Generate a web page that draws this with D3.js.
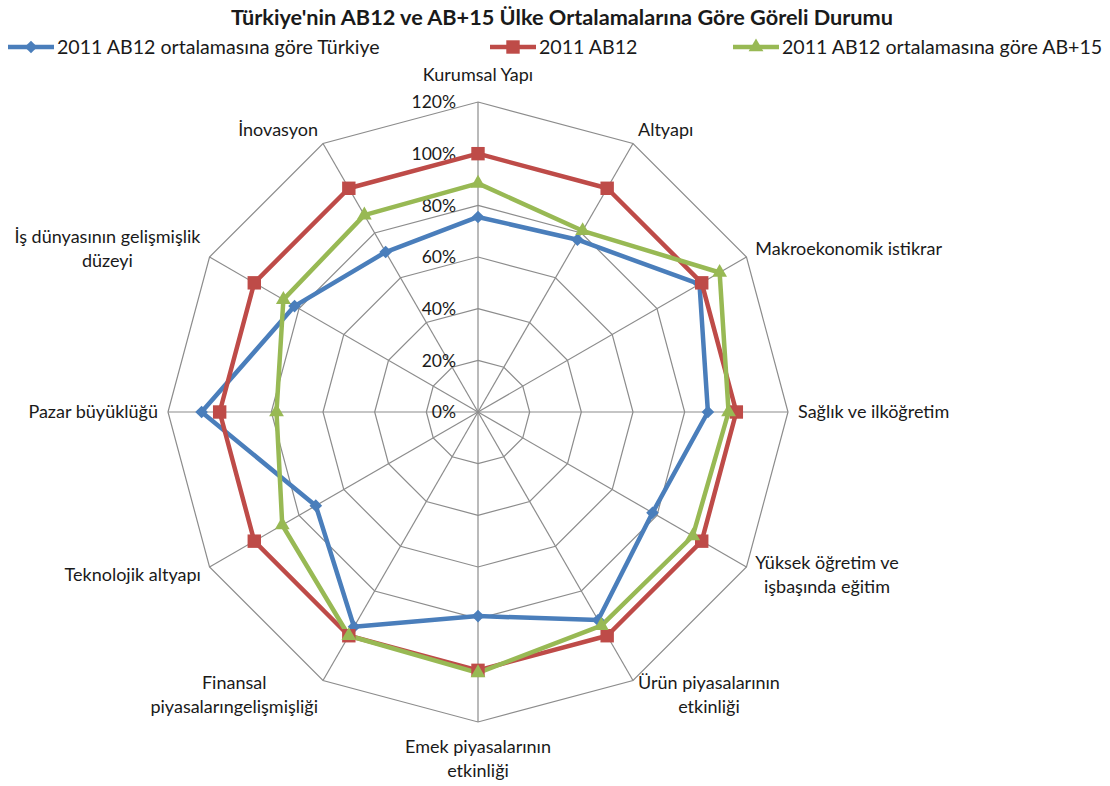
<!DOCTYPE html>
<html>
<head>
<meta charset="utf-8">
<script src="https://cdn.jsdelivr.net/npm/d3@7"></script>
<style>
  body { margin: 0; background: #fff; }
  svg { font-family: Lato, "Open Sans", sans-serif; }
</style>
</head>
<body>
<svg id="chart" width="1110" height="786"></svg>
<script>
// categories, clockwise from the top
var categories = [
  ["Kurumsal Yapı"],
  ["Altyapı"],
  ["Makroekonomik istikrar"],
  ["Sağlık ve ilköğretim"],
  ["Yüksek öğretim ve", "işbaşında eğitim"],
  ["Ürün piyasalarının", "etkinliği"],
  ["Emek piyasalarının", "etkinliği"],
  ["Finansal", "piyasalarıngelişmişliği"],
  ["Teknolojik altyapı"],
  ["Pazar büyüklüğü"],
  ["İş dünyasının gelişmişlik", "düzeyi"],
  ["İnovasyon"]
];

var seriesNames = [
  "2011 AB12 ortalamasına göre Türkiye",
  "2011 AB12",
  "2011 AB12 ortalamasına göre AB+15"
];

// values in %
var turkiye = [75.5, 77, 99, 89, 78, 93, 79, 96, 72.5, 107, 82, 71.5];
var ab12    = [100, 100, 100, 100, 100, 100, 100, 100, 100, 100, 100, 100];
var ab15    = [88.5, 81, 108, 97, 96, 95.5, 101, 100, 87.5, 78, 87, 88];

var tickValues = [0, 20, 40, 60, 80, 100, 120];

var colors = ["#4a7ebb", "#be4b48", "#98b954"];

var svg = d3.select("#chart");
var cx = 478, cy = 412, R = 310;

var r = d3.scaleLinear().domain([0, 120]).range([0, R]);
var angle = d3.scaleLinear().domain([0, categories.length]).range([0, 2 * Math.PI]);

function pt(i, v) {
  var a = angle(i);
  return [cx + r(v) * Math.sin(a), cy - r(v) * Math.cos(a)];
}

// title
svg.append("text")
  .attr("x", 562).attr("y", 25)
  .attr("text-anchor", "middle")
  .attr("font-weight", "bold")
  .attr("font-size", 21.7)
  .attr("fill", "#1a1a1a")
  .text("Türkiye'nin AB12 ve AB+15 Ülke Ortalamalarına Göre Göreli Durumu");

// grid
var grid = svg.append("g").attr("stroke", "#8c8c8c").attr("stroke-width", 1.2).attr("fill", "none");
tickValues.slice(1).forEach(function(t) {
  grid.append("path")
    .attr("d", d3.line()(categories.map(function(c, i) { return pt(i, t); })) + "Z");
});
categories.forEach(function(c, i) {
  var p = pt(i, 120);
  grid.append("line").attr("x1", cx).attr("y1", cy).attr("x2", p[0]).attr("y2", p[1]);
});

// tick labels
svg.append("g").selectAll("text")
  .data(tickValues)
  .enter().append("text")
  .attr("x", cx - 22)
  .attr("y", function(d) { return cy - r(d); })
  .attr("dy", "0.36em")
  .attr("text-anchor", "end")
  .attr("font-size", 17.5)
  .attr("fill", "#1a1a1a")
  .text(function(d) { return d + "%"; });

// category labels
var lh = 24;
var labels = svg.append("g").attr("font-size", 18).attr("fill", "#1a1a1a");
categories.forEach(function(lines, i) {
  var a = angle(i);
  var dx = Math.sin(a), dy = -Math.cos(a);
  var g = labels.append("g");
  var t = g.append("text").attr("text-anchor", "middle");
  lines.forEach(function(l, k) {
    t.append("tspan").attr("x", 0).attr("y", k * lh).attr("dy", "0.35em").text(l);
  });
  var w = t.node().getBBox().width, h = (lines.length - 1) * lh + 18;
  var gap = 10;
  var px = cx + (R + gap) * dx, py = cy + (R + gap) * dy;
  var boxX, boxY;
  if (Math.abs(dx) < 0.01) {
    boxX = px - w / 2;
    boxY = dy < 0 ? py - h - 8 : py + 6;
  } else {
    boxX = dx > 0 ? px : px - w;
    boxY = py + dy * 6 - h / 2;
  }
  boxX = Math.max(8, Math.min(1102 - w, boxX));
  g.attr("transform", "translate(" + (boxX + w / 2) + "," + (boxY + 9) + ")");
});

// series
var allSeries = [turkiye, ab12, ab15];
var radial = d3.lineRadial()
  .angle(function(d, i) { return angle(i); })
  .radius(function(d) { return r(d); })
  .curve(d3.curveLinearClosed);

function symbolPath(k) {
  if (k === 0) return d3.symbol().type(d3.symbolSquare).size(80)();
  if (k === 1) return d3.symbol().type(d3.symbolSquare).size(180)();
  return d3.symbol().type(d3.symbolTriangle).size(95)();
}

var plot = svg.append("g").attr("transform", "translate(" + cx + "," + cy + ")");
allSeries.forEach(function(vals, k) {
  plot.append("path")
    .attr("d", radial(vals))
    .attr("fill", "none")
    .attr("stroke", colors[k])
    .attr("stroke-width", 4.5)
    .attr("stroke-linejoin", "round");
});
allSeries.forEach(function(vals, k) {
  plot.append("g").selectAll("path")
    .data(vals)
    .enter().append("path")
    .attr("d", symbolPath(k))
    .attr("fill", colors[k])
    .attr("transform", function(d, i) {
      var p = pt(i, d);
      return "translate(" + (p[0] - cx) + "," + (p[1] - cy) + ")" + (k === 0 ? " rotate(45)" : "");
    });
});

// legend
var legendX = [8, 490, 733];
var legend = svg.append("g");
seriesNames.forEach(function(name, k) {
  var g = legend.append("g").attr("transform", "translate(" + legendX[k] + ",47)");
  g.append("line").attr("x1", 0).attr("x2", 46).attr("stroke", colors[k]).attr("stroke-width", 4.5);
  g.append("path").attr("d", symbolPath(k)).attr("fill", colors[k])
    .attr("transform", "translate(23,0)" + (k === 0 ? " rotate(45)" : ""));
  g.append("text").attr("x", 49).attr("dy", "0.35em")
    .attr("font-size", 19.6).attr("fill", "#1a1a1a").text(name);
});
</script>
</body>
</html>
